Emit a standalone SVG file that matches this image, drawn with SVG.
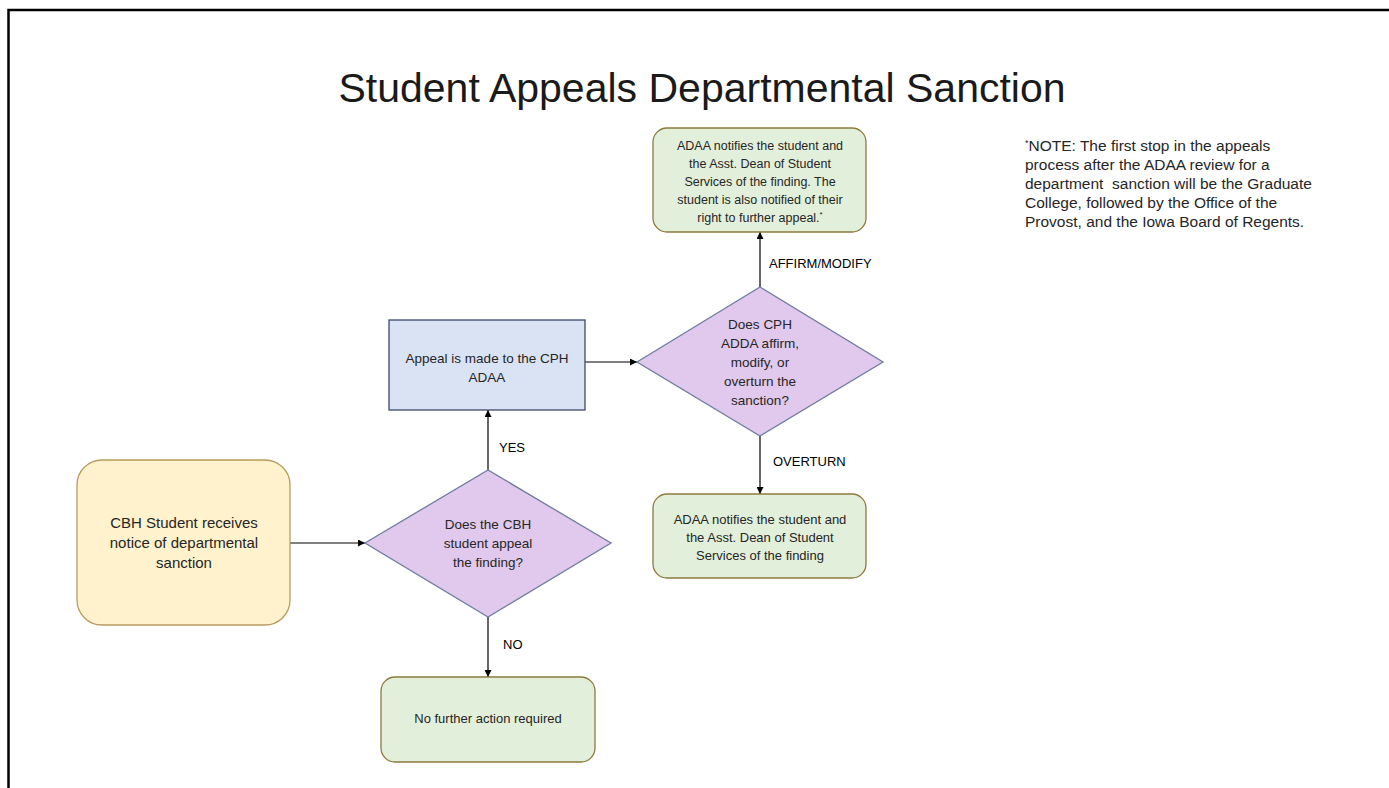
<svg xmlns="http://www.w3.org/2000/svg" width="1389" height="788" viewBox="0 0 1389 788">
<style>
text{font-family:"Liberation Sans",Arial,sans-serif;fill:#262626}
.t{font-size:13px;text-anchor:middle}
.yl{fill:#fff2cc;stroke:#b89b5e;stroke-width:1.3}
.gr{fill:#e2efda;stroke:#8c7b3e;stroke-width:1.3}
.bl{fill:#dae3f3;stroke:#3b4a6b;stroke-width:1.3}
.pu{fill:#e0c9ec;stroke:#6e7ca0;stroke-width:1.3}
.c{stroke:#000;stroke-width:1.2;fill:none;marker-end:url(#ah)}
.lb{font-size:13px;fill:#000}
.n{font-size:15.5px;white-space:pre}
</style>
<defs>
<marker id="ah" viewBox="0 0 10 10" refX="10" refY="5" markerWidth="7" markerHeight="7" markerUnits="userSpaceOnUse" orient="auto">
<path d="M0,0 L10,5 L0,10 z" fill="#000"/>
</marker>
</defs>
<rect width="1389" height="788" fill="#fff"/>
<path d="M8.5,788 V10 H1389" fill="none" stroke="#000" stroke-width="2.5"/>
<text x="702" y="102" style="font-size:41px;text-anchor:middle;fill:#1a1a1a">Student Appeals Departmental Sanction</text>

<g id="connectors">
<line class="c" x1="290" y1="543" x2="365" y2="543"/>
<line class="c" x1="488" y1="470" x2="488" y2="410"/>
<line class="c" x1="585" y1="362" x2="637" y2="362"/>
<line class="c" x1="760" y1="287" x2="760" y2="232"/>
<line class="c" x1="760" y1="436" x2="760" y2="494"/>
<line class="c" x1="488" y1="617" x2="488" y2="677"/>
<text class="lb" x="499" y="452">YES</text>
<text class="lb" x="769" y="268">AFFIRM/MODIFY</text>
<text class="lb" x="773" y="466">OVERTURN</text>
<text class="lb" x="503" y="649">NO</text>
</g>

<g id="start">
<rect class="yl" x="77" y="460" width="213" height="165" rx="25"/>
<text class="t" style="font-size:15px" x="184" y="528">CBH Student receives</text>
<text class="t" style="font-size:15px" x="184" y="548">notice of departmental</text>
<text class="t" style="font-size:15px" x="184" y="568">sanction</text>
</g>

<g id="decision1">
<polygon class="pu" points="365,543 488,470 611,543 488,617"/>
<text class="t" style="font-size:13.5px" x="488" y="529">Does the CBH</text>
<text class="t" style="font-size:13.5px" x="488" y="548">student appeal</text>
<text class="t" style="font-size:13.5px" x="488" y="567">the finding?</text>
</g>

<g id="appeal">
<rect class="bl" x="389" y="320" width="196" height="90"/>
<text class="t" style="font-size:13.5px" x="487" y="363">Appeal is made to the CPH</text>
<text class="t" style="font-size:13.5px" x="487" y="382">ADAA</text>
</g>

<g id="decision2">
<polygon class="pu" points="637,362 760,287 883,362 760,436"/>
<text class="t" style="font-size:13.5px" x="760" y="329">Does CPH</text>
<text class="t" style="font-size:13.5px" x="760" y="348">ADDA affirm,</text>
<text class="t" style="font-size:13.5px" x="760" y="367">modify, or</text>
<text class="t" style="font-size:13.5px" x="760" y="386">overturn the</text>
<text class="t" style="font-size:13.5px" x="760" y="405">sanction?</text>
</g>

<g id="affirm">
<rect class="gr" x="653" y="128" width="213" height="104" rx="14"/>
<text class="t" style="font-size:12.5px" x="760" y="150">ADAA notifies the student and</text>
<text class="t" style="font-size:12.5px" x="760" y="168">the Asst. Dean of Student</text>
<text class="t" style="font-size:12.5px" x="760" y="186">Services of the finding. The</text>
<text class="t" style="font-size:12.5px" x="760" y="204">student is also notified of their</text>
<text class="t" style="font-size:12.5px" x="760" y="222">right to further appeal.<tspan style="font-size:8px" dy="-5">*</tspan></text>
</g>

<g id="overturn">
<rect class="gr" x="653" y="494" width="213" height="84" rx="14"/>
<text class="t" x="760" y="524">ADAA notifies the student and</text>
<text class="t" x="760" y="542">the Asst. Dean of Student</text>
<text class="t" x="760" y="560">Services of the finding</text>
</g>

<g id="noaction">
<rect class="gr" x="381" y="677" width="214" height="85" rx="14"/>
<text class="t" x="488" y="723">No further action required</text>
</g>

<g id="note">
<text class="n" x="1025" y="151"><tspan style="font-size:9px" dy="-5">*</tspan><tspan dy="5">NOTE: The first stop in the appeals</tspan></text>
<text class="n" x="1025" y="170">process after the ADAA review for a</text>
<text class="n" x="1025" y="189">department  sanction will be the Graduate</text>
<text class="n" x="1025" y="208">College, followed by the Office of the</text>
<text class="n" x="1025" y="227">Provost, and the Iowa Board of Regents.</text>
</g>
</svg>
